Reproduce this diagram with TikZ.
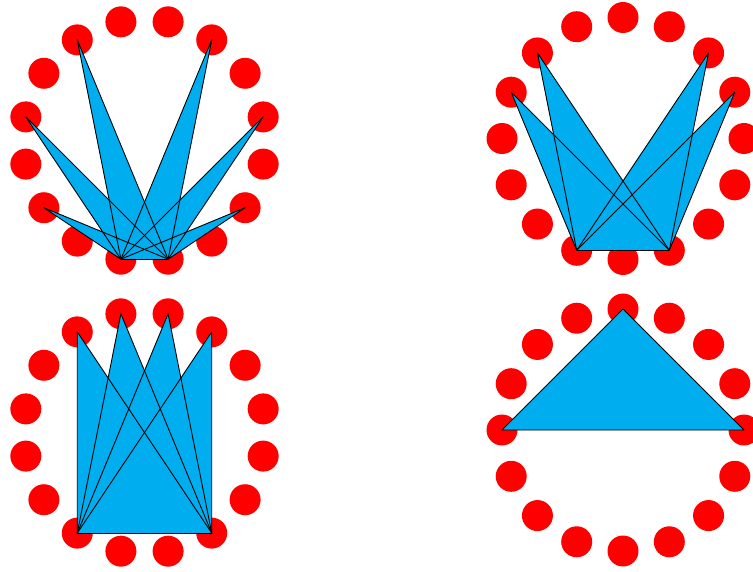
\documentclass[tikz,border=0pt]{standalone}
\definecolor{bladecyan}{RGB}{0,174,239}
\definecolor{dotred}{RGB}{255,0,0}
\begin{document}
\begin{tikzpicture}[x=1pt,y=-1pt,
  dot/.style={circle,fill=dotred,minimum size=31pt,inner sep=0pt},
  blade/.style={fill=bladecyan},
  edge/.style={draw=black,line width=0.9pt,line join=round}]
\useasboundingbox (0,0) rectangle (753,572);
\clip (0,0) rectangle (753,572);
% dots
\foreach \k in {0,...,15}{
  \node[dot] (A\k) at ({144.5+121*cos(11.25+22.5*\k)},{140.5-121*sin(11.25+22.5*\k)}) {};
  \node[dot] (B\k) at ({623+121*cos(22.5*\k)},{138.5-121*sin(22.5*\k)}) {};
  \node[dot] (C\k) at ({144.5+121*cos(11.25+22.5*\k)},{432.5-121*sin(11.25+22.5*\k)}) {};
  \node[dot] (D\k) at ({623+121*cos(22.5*\k)},{430-121*sin(22.5*\k)}) {};
}
% top-left fan
\foreach \p in {5,2,7,0,9,14}
  \fill[blade] (A11.center) -- (A12.center) -- (A\p.center) -- cycle;
\foreach \p in {5,2,7,0,9,14}
  \draw[edge] (A11.center) -- (A\p.center) -- (A12.center);
\draw[edge] (A11.center) -- (A12.center);
% top-right fan
\foreach \p in {6,7,2,1}
  \fill[blade] (B11.center) -- (B13.center) -- (B\p.center) -- cycle;
\foreach \p in {6,7,2,1}
  \draw[edge] (B11.center) -- (B\p.center) -- (B13.center);
\draw[edge] (B11.center) -- (B13.center);
% bottom-left fan
\foreach \p in {5,4,3,2}
  \fill[blade] (C10.center) -- (C13.center) -- (C\p.center) -- cycle;
\foreach \p in {5,4,3,2}
  \draw[edge] (C10.center) -- (C\p.center) -- (C13.center);
\draw[edge] (C10.center) -- (C13.center);
% bottom-right triangle
\fill[blade] (D8.center) -- (D0.center) -- (D4.center) -- cycle;
\draw[edge] (D8.center) -- (D0.center) -- (D4.center) -- cycle;
\end{tikzpicture}
\end{document}
